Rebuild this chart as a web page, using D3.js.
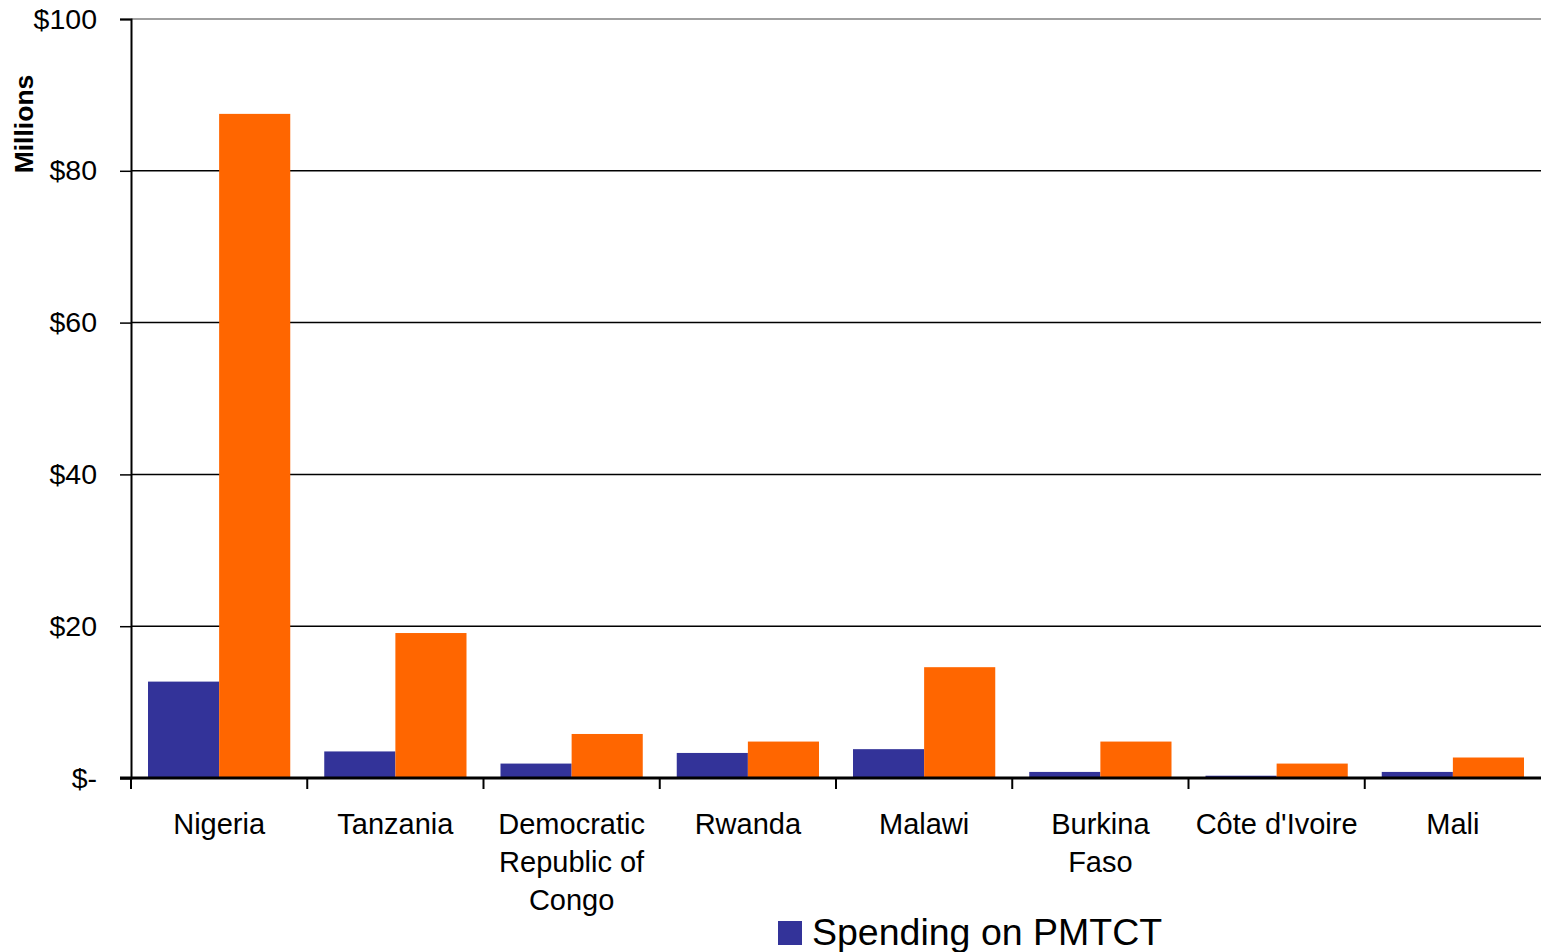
<html>
<head>
<meta charset="utf-8">
<script src="https://d3js.org/d3.v7.min.js"></script>
<style>
  body { margin: 0; background: white; }
  text { font-family: 'Liberation Sans', Arial, sans-serif; fill: black; }
</style>
</head>
<body>
<script>
var categories = ['Nigeria', 'Tanzania', 'Democratic Republic of Congo', 'Rwanda',
                  'Malawi', 'Burkina Faso', "Côte d'Ivoire", 'Mali'];
var seriesNames = ['Spending on PMTCT', 'Other spending'];
var pmtct = [12.7, 3.5, 1.9, 3.3, 3.8, 0.8, 0.3, 0.8];
var other = [87.5, 19.1, 5.8, 4.8, 14.6, 4.8, 1.9, 2.7];
var yTicks = [0, 20, 40, 60, 80, 100];
var colors = ['#333399', '#ff6600'];

var W = 1541, H = 952;
var plotLeft = 131, plotRight = 1541, plotTop = 19, plotBottom = 778;

var svg = d3.select('body').append('svg')
    .attr('width', W)
    .attr('height', H);

var x = d3.scaleBand().domain(categories).range([plotLeft, plotRight]);
var xs = d3.scaleBand().domain([0, 1]).range([17, x.bandwidth() - 17]);
var y = d3.scaleLinear().domain([0, 100]).range([plotBottom, plotTop]);

// gridlines
svg.append('g').selectAll('line')
    .data(yTicks.filter(function(d) { return d > 0; }))
    .join('line')
    .attr('x1', plotLeft).attr('x2', plotRight)
    .attr('y1', function(d) { return y(d); })
    .attr('y2', function(d) { return y(d); })
    .attr('stroke', function(d) { return d === 100 ? '#808080' : 'black'; })
    .attr('stroke-width', 1.5);

// bars
var rows = categories.map(function(c, i) { return {cat: c, vals: [pmtct[i], other[i]]}; });
var grp = svg.append('g').selectAll('g')
    .data(rows)
    .join('g')
    .attr('transform', function(d) { return 'translate(' + x(d.cat) + ',0)'; });

grp.selectAll('rect')
    .data(function(d) { return d.vals; })
    .join('rect')
    .attr('x', function(d, i) { return xs(i); })
    .attr('width', xs.bandwidth())
    .attr('y', function(d) { return y(d); })
    .attr('height', function(d) { return y(0) - y(d); })
    .attr('fill', function(d, i) { return colors[i]; });

// y axis
var yAxis = svg.append('g')
    .attr('transform', 'translate(' + plotLeft + ',0)')
    .call(d3.axisLeft(y).tickValues(yTicks).tickSize(11).tickPadding(23)
        .tickFormat(function(d) { return d === 0 ? '$-' : '$' + d; }));
yAxis.select('.domain').attr('stroke', 'black').attr('stroke-width', 2);
yAxis.selectAll('.tick line').attr('stroke', 'black').attr('stroke-width', 1.5);
yAxis.selectAll('.tick text')
    .style('font-size', '28.5px')
    .attr('fill', 'black');

// x axis
var xAxisG = svg.append('g')
    .attr('transform', 'translate(0,' + plotBottom + ')');
xAxisG.append('line')
    .attr('x1', plotLeft - 11).attr('x2', plotRight)
    .attr('stroke', 'black').attr('stroke-width', 3);
xAxisG.selectAll('.xtick')
    .data(categories)
    .join('line')
    .attr('class', 'xtick')
    .attr('x1', function(d) { return x(d); })
    .attr('x2', function(d) { return x(d); })
    .attr('y1', 0).attr('y2', 11)
    .attr('stroke', 'black').attr('stroke-width', 2);

var labels = xAxisG.selectAll('.xlab')
    .data(categories)
    .join('text')
    .attr('class', 'xlab')
    .attr('text-anchor', 'middle')
    .style('font-size', '29px')
    .attr('x', function(d) { return x(d) + x.bandwidth() / 2; })
    .attr('y', 56)
    .text(function(d) { return d; });

// wrap long category names
labels.each(function(d) {
    var t = d3.select(this);
    var words = d.split(' ');
    var cx = t.attr('x');
    t.text(null);
    var line = [];
    var ts = t.append('tspan').attr('x', cx).attr('dy', 0);
    words.forEach(function(w) {
        line.push(w);
        ts.text(line.join(' '));
        if (ts.node().getComputedTextLength() > 166 && line.length > 1) {
            line.pop();
            ts.text(line.join(' '));
            line = [w];
            ts = t.append('tspan').attr('x', cx).attr('dy', 38).text(w);
        }
    });
});

// y axis title
svg.append('text')
    .attr('transform', 'translate(33,124) rotate(-90)')
    .attr('text-anchor', 'middle')
    .style('font-size', '26.5px')
    .style('font-weight', 'bold')
    .text('Millions');

// legend
var legend = svg.append('g').attr('transform', 'translate(778,921)');
legend.append('rect')
    .attr('width', 24).attr('height', 24)
    .attr('fill', colors[0]);
legend.append('text')
    .attr('x', 34).attr('y', 24)
    .style('font-size', '37.5px')
    .text(seriesNames[0]);
</script>
</body>
</html>
